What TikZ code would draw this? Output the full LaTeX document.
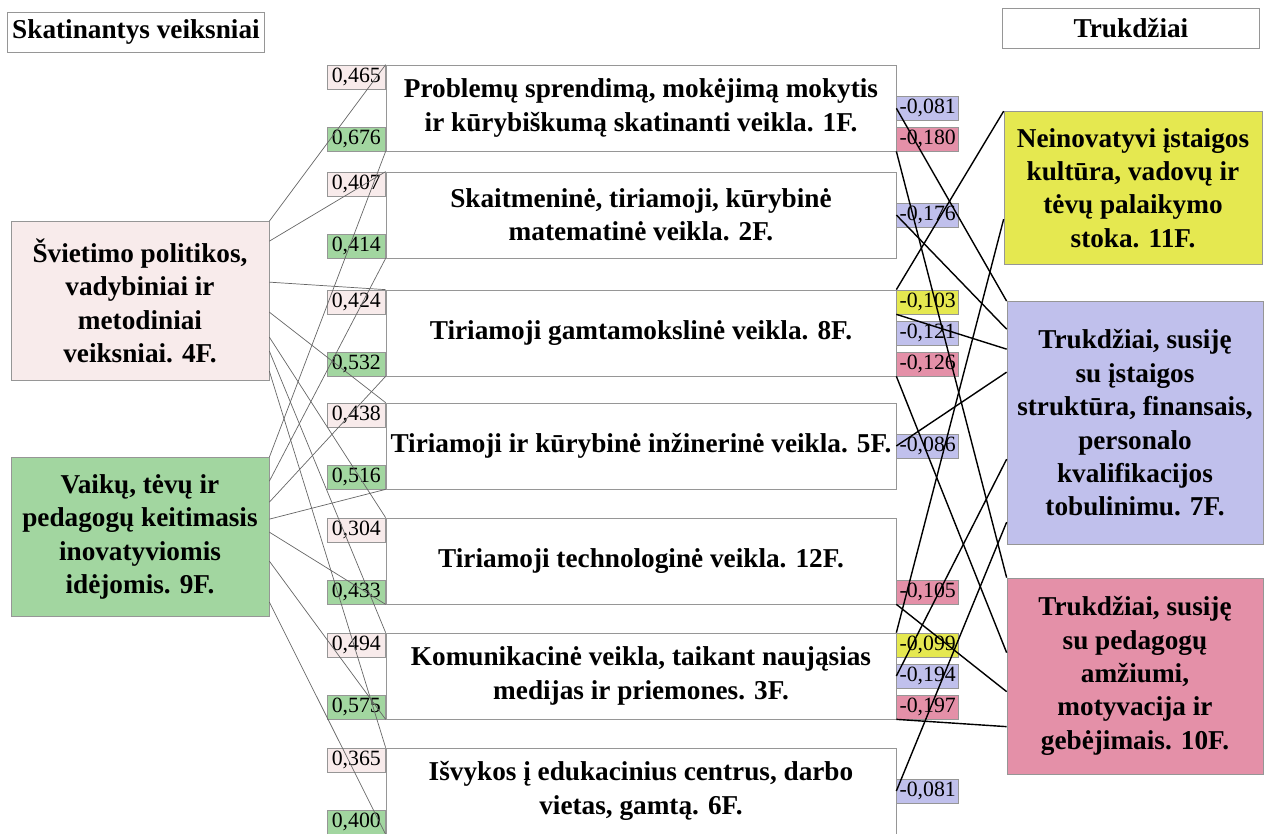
\documentclass[tikz,border=0pt]{standalone}
\usepackage{fontspec}
\setmainfont{Liberation Serif}
\usetikzlibrary{positioning,calc}
\definecolor{framegray}{RGB}{150,150,150}
\definecolor{softpink}{RGB}{248,235,235}
\definecolor{softgreen}{RGB}{162,214,160}
\definecolor{softyellow}{RGB}{229,232,80}
\definecolor{softlilac}{RGB}{192,192,236}
\definecolor{softrose}{RGB}{228,144,168}

\begin{document}
\begin{tikzpicture}[
    x=0.2mm, y=-0.2mm,
    font=\bfseries\fontsize{15.5}{19}\selectfont,
    header/.style={draw=framegray, minimum width=51.4mm, minimum height=8mm, inner sep=0pt},
    factor/.style={draw=framegray, align=center, inner sep=0pt, minimum width=51.6mm},
    activity/.style={draw=framegray, minimum width=102mm, minimum height=17.2mm, align=center, inner sep=0pt},
    loadval/.style={draw=framegray, minimum width=11.6mm, minimum height=4.8mm, inner sep=0pt, font=\mdseries\fontsize{12.4}{14}\selectfont},
    negval/.style={loadval, minimum width=12.4mm},
    upline/.style={line width=0.4pt, gray!80!black},
    downline/.style={line width=0.8pt, black}
  ]
  \useasboundingbox (0,0) rectangle (1264,834);

  \node[header] (lhead) at (136,32) {Skatinantys veiksniai};
  \node[header] (rhead) at (1131,28) {Trukdžiai};

  \node[factor, fill=softpink, minimum height=31.8mm] (f4) at (140,301) {Švietimo politikos,\\vadybiniai ir\\metodiniai\\veiksniai. 4F.};
  \node[factor, fill=softgreen, minimum height=31.8mm] (f9) at (140,537) {Vaikų, tėvų ir\\pedagogų keitimasis\\inovatyviomis\\idėjomis. 9F.};

  \node[activity] (a1) at (641,108) {Problemų sprendimą, mokėjimą mokytis\\ir kūrybiškumą skatinanti veikla. 1F.};
  \node[activity] (a2) at (641,215) {Skaitmeninė, tiriamoji, kūrybinė\\matematinė veikla. 2F.};
  \node[activity] (a8) at (641,333) {Tiriamoji gamtamokslinė veikla. 8F.};
  \node[activity] (a5) at (641,446) {Tiriamoji ir kūrybinė inžinerinė veikla. 5F.};
  \node[activity] (a12) at (641,561) {Tiriamoji technologinė veikla. 12F.};
  \node[activity] (a3) at (641,676) {Komunikacinė veikla, taikant naująsias\\medijas ir priemones. 3F.};
  \node[activity] (a6) at (641,791) {Išvykos į edukacinius centrus, darbo\\vietas, gamtą. 6F.};

  \node[factor, fill=softyellow, minimum height=30.6mm] (f11) at (1133,188) {Neinovatyvi įstaigos\\kultūra, vadovų ir\\tėvų palaikymo\\stoka. 11F.};
  \node[factor, fill=softlilac, minimum width=51.2mm, minimum height=48.6mm] (f7) at (1135,423) {Trukdžiai, susiję\\su įstaigos\\struktūra, finansais,\\personalo\\kvalifikacijos\\tobulinimu. 7F.};
  \node[factor, fill=softrose, minimum width=51.2mm, minimum height=39.2mm] (f10) at (1135,676) {Trukdžiai, susiję\\su pedagogų\\amžiumi,\\motyvacija ir\\gebėjimais. 10F.};

  \node[loadval, fill=softpink, anchor=north east] (p1) at (a1.north west) {0,465};
  \node[loadval, fill=softgreen, anchor=south east] (g1) at (a1.south west) {0,676};
  \node[loadval, fill=softpink, anchor=north east] (p2) at (a2.north west) {0,407};
  \node[loadval, fill=softgreen, anchor=south east] (g2) at (a2.south west) {0,414};
  \node[loadval, fill=softpink, anchor=north east] (p8) at (a8.north west) {0,424};
  \node[loadval, fill=softgreen, anchor=south east] (g8) at (a8.south west) {0,532};
  \node[loadval, fill=softpink, anchor=north east] (p5) at (a5.north west) {0,438};
  \node[loadval, fill=softgreen, anchor=south east] (g5) at (a5.south west) {0,516};
  \node[loadval, fill=softpink, anchor=north east] (p12) at (a12.north west) {0,304};
  \node[loadval, fill=softgreen, anchor=south east] (g12) at (a12.south west) {0,433};
  \node[loadval, fill=softpink, anchor=north east] (p3) at (a3.north west) {0,494};
  \node[loadval, fill=softgreen, anchor=south east] (g3) at (a3.south west) {0,575};
  \node[loadval, fill=softpink, anchor=north east] (p6) at (a6.north west) {0,365};
  \node[loadval, fill=softgreen, anchor=south east] (g6) at (a6.south west) {0,400};

  \node[negval, fill=softrose, anchor=south west] (n1b) at (a1.south east) {-0,180};
  \node[negval, fill=softlilac, above=1.2mm of n1b] (n1a) {-0,081};
  \node[negval, fill=softlilac, anchor=west] (n2) at (a2.east) {-0,176};
  \node[negval, fill=softyellow, anchor=north west] (n8a) at (a8.north east) {-0,103};
  \node[negval, fill=softlilac, anchor=west] (n8b) at (a8.east) {-0,121};
  \node[negval, fill=softrose, anchor=south west] (n8c) at (a8.south east) {-0,126};
  \node[negval, fill=softlilac, anchor=west] (n5) at (a5.east) {-0,086};
  \node[negval, fill=softrose, anchor=south west] (n12) at (a12.south east) {-0,105};
  \node[negval, fill=softyellow, anchor=north west] (n3a) at (a3.north east) {-0,099};
  \node[negval, fill=softlilac, anchor=west] (n3b) at (a3.east) {-0,194};
  \node[negval, fill=softrose, anchor=south west] (n3c) at (a3.south east) {-0,197};
  \node[negval, fill=softlilac, anchor=west] (n6) at (a6.east) {-0,081};

  \draw[upline] (f4.north east) -- (p1.north east);
  \draw[upline] ($(f4.north east)+(0,20)$) -- (p2.north east);
  \draw[upline] ($(f4.north east)+(0,61)$) -- (p8.north east);
  \draw[upline] ($(f4.north east)+(0,91)$) -- (p5.north east);
  \draw[upline] ($(f4.north east)+(0,116)$) -- (p12.north east);
  \draw[upline] ($(f4.north east)+(0,130)$) -- (p3.north east);
  \draw[upline] ($(f4.north east)+(0,150)$) -- (p6.north east);

  \draw[upline] (f9.north east) -- (g1.south east);
  \draw[upline] ($(f9.north east)+(0,24)$) -- (g2.south east);
  \draw[upline] ($(f9.north east)+(0,45)$) -- (g8.south east);
  \draw[upline] ($(f9.north east)+(0,62)$) -- (g5.south east);
  \draw[upline] ($(f9.north east)+(0,75)$) -- (g12.south east);
  \draw[upline] ($(f9.north east)+(0,104)$) -- (g3.south east);
  \draw[upline] ($(f9.north east)+(0,145)$) -- (g6.south east);

  \draw[downline] (n1a.west) -- (f7.north west);
  \draw[downline] (n1b.south west) -- (f10.north west);
  \draw[downline] (n2.west) -- ($(f7.north west)+(0,28)$);
  \draw[downline] (n8a.north west) -- (f11.north west);
  \draw[downline] (n8a.south west) -- ($(f7.north west)+(0,48)$);
  \draw[downline] (n8c.south west) -- ($(f10.north west)+(0,75)$);
  \draw[downline] (n5.west) -- ($(f7.north west)+(0,71)$);
  \draw[downline] (n12.south west) -- ($(f10.north west)+(0,114)$);
  \draw[downline] (n3a.north west) -- ($(f11.north west)+(0,108)$);
  \draw[downline] (n3b.west) -- ($(f7.north west)+(0,158)$);
  \draw[downline] (n3c.south west) -- ($(f10.north west)+(0,149)$);
  \draw[downline] (n6.west) -- ($(f7.north west)+(0,221)$);
\end{tikzpicture}
\end{document}
